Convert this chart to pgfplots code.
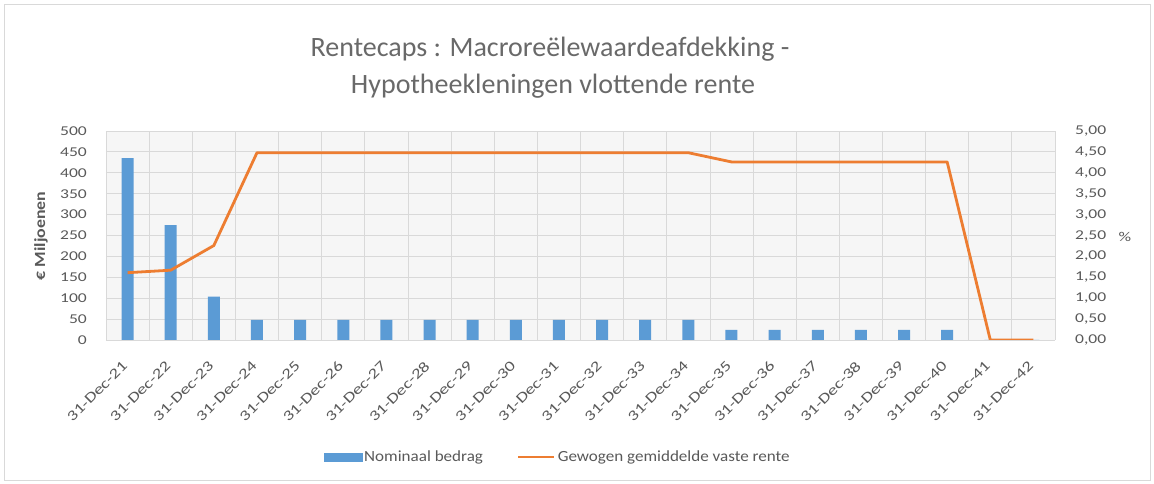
\documentclass[border=0pt]{standalone}
\usepackage{pgfplots}
\pgfplotsset{compat=1.18}
\usepackage{fontspec}
\setmainfont{Carlito}
\newfontfamily\widefont[FakeStretch=1.3]{Carlito}
\newfontfamily\legfont[FakeStretch=1.1]{Carlito}
\newfontfamily\labfont[FakeStretch=1.15]{Carlito}
\definecolor{barblue}{RGB}{91,155,213}
\definecolor{lineorange}{RGB}{237,125,49}
\definecolor{txtgray}{RGB}{89,89,89}
\definecolor{titlegray}{RGB}{105,105,105}
\definecolor{gridgray}{RGB}{217,217,217}
\definecolor{plotbg}{RGB}{246,246,246}
\pgfplotstableread{
x val
0 435
1 275
2 104
3 48
4 48
5 48
6 48
7 48
8 48
9 48
10 48
11 48
12 48
13 48
14 24
15 24
16 24
17 24
18 24
19 24
20 0
21 0
}\bars
\pgfplotstableread{
x val
0 1.61
1 1.67
2 2.26
3 4.48
4 4.48
5 4.48
6 4.48
7 4.48
8 4.48
9 4.48
10 4.48
11 4.48
12 4.48
13 4.48
14 4.26
15 4.26
16 4.26
17 4.26
18 4.26
19 4.26
20 0
21 0
}\rate
\pgfplotsset{
  common/.style={
    at={(106pt,144pt)}, anchor=south west, scale only axis,
    width=949pt, height=209pt,
    xmin=-0.5, xmax=21.5,
    /pgf/number format/assume math mode=true,
    major tick length=0pt, minor tick length=0pt,
    tick label style={font=\widefont\fontsize{13.5}{16}\selectfont, text=txtgray},
  }
}
\begin{document}
\begin{tikzpicture}
\path[use as bounding box] (0pt,0pt) rectangle (1154pt,484pt);
\draw[gridgray, line width=0.8pt] (4pt,4pt) rectangle (1150pt,480pt);
\node[titlegray, anchor=base, font=\fontsize{28}{34}\selectfont] at (550pt,427pt) {Rentecaps : Macroreëlewaardeafdekking -};
\node[titlegray, anchor=base, font=\fontsize{28}{34}\selectfont] at (553pt,390pt) {Hypotheekleningen vlottende rente};
\begin{axis}[common,
  ymin=0, ymax=500, ytick={0,50,...,500},
  axis background/.style={fill=plotbg},
  axis y line*=left, axis x line*=bottom,
  axis line style={gridgray},
  xtick={0,...,21},
  xticklabels={31-Dec-21,31-Dec-22,31-Dec-23,31-Dec-24,31-Dec-25,31-Dec-26,31-Dec-27,31-Dec-28,31-Dec-29,31-Dec-30,31-Dec-31,31-Dec-32,31-Dec-33,31-Dec-34,31-Dec-35,31-Dec-36,31-Dec-37,31-Dec-38,31-Dec-39,31-Dec-40,31-Dec-41,31-Dec-42},
  xticklabel style={xshift=-6pt, yshift=-20pt, rotate=45, anchor=north east, inner sep=0pt,
    font=\widefont\fontsize{14.5}{17}\selectfont},
  yticklabel style={anchor=east, inner sep=0pt, xshift=-19pt},
  minor xtick={-0.5,0.5,...,21.5},
  ymajorgrids, xminorgrids,
  grid style={gridgray, line width=0.8pt},
]
\addplot[ybar, bar width=12pt, fill=barblue, draw=none] table[x=x,y=val]{\bars};
\end{axis}
\begin{axis}[common,
  ymin=0, ymax=5, ytick={0,0.5,...,5},
  axis y line*=right, axis x line=none,
  axis line style={draw=none},
  xtick=\empty,
  yticklabel style={anchor=west, inner sep=0pt, xshift=20pt,
    /pgf/number format/.cd, fixed, fixed zerofill, precision=2, use comma},
  legend style={at={(0.476,-0.56)}, anchor=center, draw=none, fill=none,
    legend columns=2, font=\legfont\fontsize{15.5}{18}\selectfont, text=txtgray,
    /tikz/every even column/.append style={column sep=32pt},
    inner sep=0pt},
]
\addlegendimage{legend image code/.code={\fill[barblue] (0pt,-4pt) rectangle (38pt,4pt);}}
\addlegendentry{Nominaal bedrag}
\addplot[lineorange, line width=2.8pt, line join=round,
  legend image code/.code={\draw[lineorange, line width=2.8pt] (0pt,0pt) -- (36pt,0pt);}]
  table[x=x,y=val]{\rate};
\addlegendentry{Gewogen gemiddelde vaste rente}
\end{axis}
\node[txtgray, rotate=90, font=\labfont\bfseries\fontsize{15.5}{18}\selectfont] at (41pt,248pt) {€ Miljoenen};
\node[txtgray, font=\widefont\fontsize{13.5}{16}\selectfont] at (1125pt,247pt) {\%};
\end{tikzpicture}
\end{document}
